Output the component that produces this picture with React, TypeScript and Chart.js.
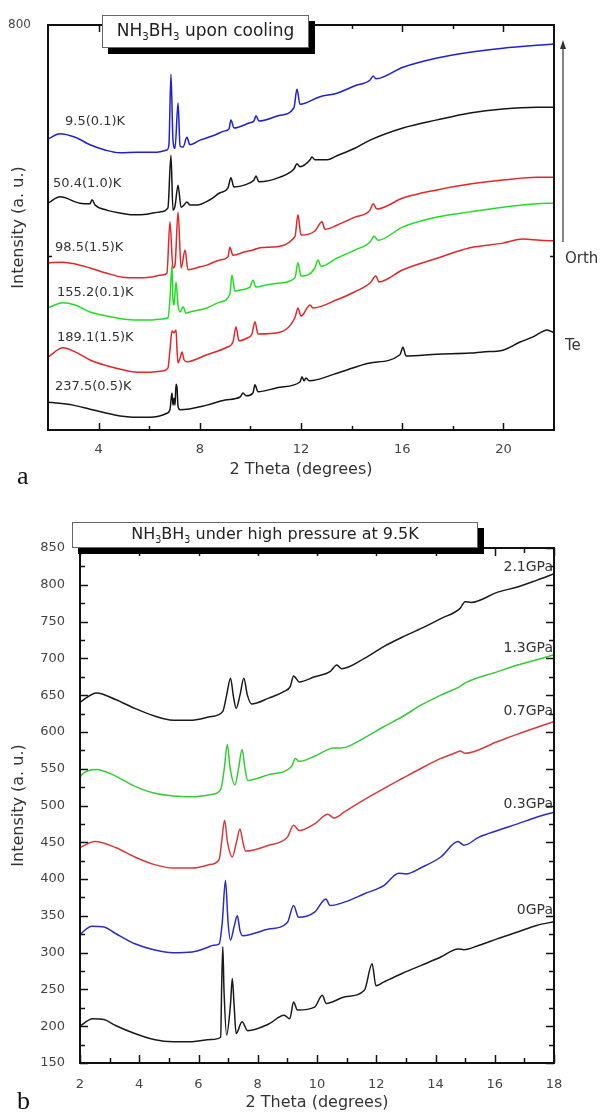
import React, { useEffect, useRef } from 'react';
import { Chart, registerables } from 'chart.js';
Chart.register(...registerables);
Chart.defaults.font.family = 'DejaVu Sans';

// ---------- Panel a: NH3BH3 upon cooling ----------
const aXTickLabels = [4, 8, 12, 16, 20];
const aXMinorTicks = [6, 10, 14, 18];
const aYTickLabels = [800];
const aYSideTicks = [400];
const aCurveLabels = ['9.5(0.1)K', '50.4(1.0)K', '98.5(1.5)K', '155.2(0.1)K', '189.1(1.5)K', '237.5(0.5)K'];
const aColors = ['#1f1fd6', '#151515', '#e32626', '#22dd22', '#e32626', '#151515'];

const a9p5K: [number, number][] = [
  [2.0, 603], [2.47, 612], [3.07, 606], [3.66, 593], [4.25, 584], [4.85, 579], [5.52, 580], [6.23, 580], [6.7, 584],
  [6.78, 593], [6.86, 715], [6.94, 601], [7.02, 587], [7.14, 665], [7.22, 591], [7.34, 589], [7.49, 606], [7.61, 593],
  [8.01, 601], [8.6, 610], [9.0, 617], [9.15, 620], [9.23, 636], [9.35, 622], [9.98, 631], [10.14, 634], [10.22, 643],
  [10.34, 634], [11.17, 644], [11.72, 657], [11.84, 689], [11.96, 663], [12.75, 676], [13.42, 682], [14.13, 695],
  [14.73, 705], [14.85, 712], [14.96, 707], [16.03, 727], [17.38, 743], [18.68, 753], [19.98, 760], [21.33, 765], [22.0, 767],
];
const a50p4K: [number, number][] = [
  [2.0, 492], [2.47, 503], [3.26, 492], [3.66, 491], [3.74, 498], [3.86, 489], [4.33, 480], [4.85, 475], [5.36, 472],
  [5.91, 473], [6.43, 477], [6.74, 484], [6.86, 575], [6.94, 480], [7.02, 487], [7.14, 523], [7.26, 485], [7.38, 489],
  [7.49, 494], [7.61, 489], [7.89, 489], [8.4, 498], [8.8, 510], [9.11, 518], [9.23, 536], [9.35, 520], [9.98, 527],
  [10.14, 532], [10.22, 539], [10.34, 529], [11.17, 537], [11.72, 551], [11.84, 560], [11.96, 555], [12.36, 567],
  [12.43, 572], [12.55, 567], [13.03, 567], [13.42, 574], [14.13, 587], [14.73, 601], [16.03, 622], [17.38, 636],
  [18.68, 648], [19.98, 655], [21.33, 658], [22.0, 658],
];
const a98p5K: [number, number][] = [
  [2.0, 389], [2.59, 390], [3.07, 387], [3.66, 380], [4.33, 371], [4.96, 364], [5.52, 363], [6.03, 364], [6.51, 368],
  [6.7, 371], [6.82, 460], [6.94, 380], [7.02, 385], [7.14, 477], [7.26, 380], [7.42, 411], [7.53, 377], [8.01, 382],
  [8.28, 385], [8.8, 394], [9.11, 399], [9.19, 416], [9.31, 402], [9.79, 408], [10.1, 411], [10.38, 415], [10.77, 416],
  [11.76, 434], [11.88, 472], [12.0, 437], [12.55, 444], [12.83, 460], [12.95, 447], [13.42, 454], [14.13, 468],
  [14.73, 480], [14.85, 491], [15.0, 482], [16.03, 501], [17.38, 515], [18.68, 525], [19.98, 532], [21.33, 537], [22.0, 537],
];
const a155p2K: [number, number][] = [
  [2.0, 311], [2.59, 320], [3.07, 316], [3.66, 304], [4.33, 297], [4.96, 292], [5.52, 290], [6.03, 290], [6.51, 292],
  [6.74, 294], [6.82, 325], [6.9, 385], [6.94, 325], [6.98, 316], [7.06, 356], [7.14, 316], [7.22, 304], [7.34, 313],
  [7.45, 302], [7.61, 304], [8.28, 311], [8.8, 321], [9.19, 335], [9.27, 368], [9.39, 340], [9.59, 342], [9.98, 347],
  [10.1, 359], [10.22, 347], [10.66, 351], [11.17, 354], [11.76, 363], [11.88, 389], [12.0, 366], [12.55, 380],
  [12.67, 394], [12.79, 383], [13.42, 397], [14.13, 411], [14.73, 425], [14.89, 435], [15.04, 428], [16.03, 451],
  [17.38, 468], [18.68, 477], [19.98, 485], [21.33, 491], [22.0, 492],
];
const a189p1K: [number, number][] = [
  [2.0, 226], [2.59, 242], [3.07, 235], [3.66, 221], [4.33, 211], [4.96, 204], [5.52, 200], [6.03, 200], [6.51, 202],
  [6.74, 207], [6.82, 238], [6.9, 271], [6.98, 268], [7.06, 273], [7.1, 238], [7.14, 216], [7.22, 224], [7.3, 235],
  [7.38, 221], [7.49, 218], [8.28, 230], [9.07, 243], [9.31, 252], [9.43, 278], [9.55, 254], [9.87, 259], [10.06, 266],
  [10.18, 287], [10.3, 266], [11.17, 269], [11.76, 294], [11.88, 311], [12.0, 297], [12.36, 316], [12.47, 311],
  [13.42, 325], [14.13, 339], [14.73, 354], [14.96, 366], [15.08, 356], [16.03, 377], [17.38, 397], [18.68, 415],
  [19.98, 423], [20.77, 430], [21.45, 428], [22.0, 427],
];
const a237p5K: [number, number][] = [
  [2.0, 148], [2.99, 143], [3.66, 136], [4.33, 129], [4.85, 124], [5.36, 122], [6.03, 122], [6.7, 129], [6.82, 135],
  [6.9, 164], [6.94, 143], [6.98, 155], [7.02, 143], [7.06, 179], [7.1, 173], [7.14, 141], [7.22, 135], [8.28, 143],
  [9.0, 152], [9.59, 157], [9.71, 164], [9.83, 159], [10.1, 164], [10.18, 178], [10.3, 166], [11.17, 174], [11.96, 183],
  [12.04, 192], [12.12, 185], [12.2, 190], [12.32, 185], [13.42, 198], [14.73, 216], [15.91, 230], [16.03, 243],
  [16.15, 228], [17.38, 231], [18.68, 233], [19.19, 235], [19.98, 238], [20.66, 252], [21.17, 261], [21.45, 268],
  [21.72, 273], [22.0, 268],
];
const aSeriesData = [a9p5K, a50p4K, a98p5K, a155p2K, a189p1K, a237p5K];

// ---------- Panel b: NH3BH3 under high pressure at 9.5K ----------
const bXTickLabels = [2, 4, 6, 8, 10, 12, 14, 16, 18];
const bXMinorTicks = [3, 5, 7, 9, 11, 13, 15, 17];
const bYTickLabels = [150, 200, 250, 300, 350, 400, 450, 500, 550, 600, 650, 700, 750, 800, 850];
const bYMinorTicks = [175, 225, 275, 325, 375, 425, 475, 525, 575, 625, 675, 725, 775, 825];
const bCurveLabels = ['2.1GPa', '1.3GPa', '0.7GPa', '0.3GPa', '0GPa'];
const bColors = ['#1a1a1a', '#33cc33', '#d83a3a', '#2a2ac8', '#1a1a1a'];

const b2p1GPa: [number, number][] = [
  [2.0, 640], [2.06, 642], [2.56, 653], [3.2, 644], [3.85, 632], [4.49, 622], [5.14, 616], [5.79, 616], [6.43, 621],
  [6.82, 628], [6.95, 650], [7.08, 673], [7.18, 648], [7.27, 632], [7.4, 650], [7.53, 673], [7.65, 650], [7.79, 638],
  [8.37, 646], [8.89, 655], [9.1, 662], [9.21, 676], [9.4, 668], [9.92, 675], [10.44, 682], [10.67, 691], [10.82, 686],
  [11.6, 700], [12.25, 716], [12.89, 729], [13.54, 741], [14.18, 754], [14.83, 768], [15.0, 777], [15.2, 776],
  [16.1, 790], [16.77, 797], [17.41, 806], [18.0, 815],
];
const b1p3GPa: [number, number][] = [
  [2.0, 538], [2.06, 542], [2.56, 549], [3.2, 540], [3.85, 526], [4.49, 517], [5.14, 513], [5.79, 512], [6.43, 515],
  [6.75, 522], [6.87, 550], [6.97, 583], [7.07, 550], [7.23, 528], [7.35, 550], [7.47, 576], [7.57, 550], [7.66, 534],
  [8.37, 542], [9.14, 553], [9.27, 564], [9.4, 560], [9.92, 567], [10.57, 578], [10.82, 578], [11.6, 592], [12.25, 607],
  [12.89, 621], [13.54, 637], [14.18, 650], [14.83, 662], [15.02, 667], [16.1, 682], [16.77, 691], [17.41, 698], [18.0, 705],
];
const b0p7GPa: [number, number][] = [
  [2.0, 443], [2.5, 451], [3.2, 443], [3.85, 430], [4.49, 420], [5.14, 415], [5.79, 415], [6.43, 420], [6.7, 427],
  [6.78, 450], [6.88, 480], [6.98, 450], [7.14, 430], [7.28, 450], [7.4, 468], [7.5, 450], [7.59, 438], [8.37, 446],
  [9.0, 457], [9.21, 473], [9.4, 466], [9.92, 475], [10.37, 488], [10.57, 483], [10.95, 492], [11.6, 508], [12.25, 523],
  [12.89, 537], [13.54, 551], [14.18, 564], [14.7, 572], [14.83, 574], [15.0, 571], [16.1, 587], [16.77, 597], [17.41, 606], [18.0, 614],
];
const b0p3GPa: [number, number][] = [
  [2.0, 325], [2.4, 336], [2.81, 335], [3.2, 326], [3.85, 312], [4.49, 304], [5.14, 300], [5.79, 301], [6.3, 307],
  [6.5, 310], [6.7, 312], [6.8, 340], [6.91, 398], [7.0, 340], [7.08, 317], [7.2, 335], [7.31, 350], [7.4, 330],
  [7.49, 323], [8.37, 332], [9.0, 341], [9.21, 364], [9.38, 348], [9.92, 355], [10.3, 373], [10.44, 364], [10.95, 369],
  [11.6, 380], [12.25, 391], [12.76, 408], [13.0, 407], [13.54, 416], [14.18, 430], [14.76, 451], [14.96, 446],
  [15.47, 457], [16.1, 466], [16.77, 475], [17.41, 484], [18.0, 491],
];
const b0GPa: [number, number][] = [
  [2.0, 200], [2.43, 210], [2.81, 209], [3.2, 201], [3.85, 190], [4.49, 182], [5.14, 179], [5.79, 179], [6.43, 182],
  [6.75, 185], [6.78, 250], [6.82, 308], [6.86, 250], [6.95, 188], [7.08, 230], [7.14, 265], [7.2, 230], [7.27, 190],
  [7.47, 206], [7.66, 194], [8.37, 203], [8.89, 215], [9.08, 210], [9.21, 233], [9.34, 222], [9.92, 226], [10.18, 242],
  [10.31, 231], [10.95, 240], [11.6, 249], [11.86, 285], [11.99, 255], [12.25, 260], [12.89, 272], [13.54, 283],
  [14.18, 294], [14.76, 305], [14.96, 304], [15.47, 310], [16.1, 319], [16.77, 328], [17.41, 337], [18.0, 342],
];
const bSeriesData = [b2p1GPa, b1p3GPa, b0p7GPa, b0p3GPa, b0GPa];

// ---------- frame + inward ticks plugin ----------
const frameTicks = {
  id: 'frameTicks',
  afterDatasetsDraw(chart: any, _args: any, opts: any) {
    const { ctx, chartArea } = chart;
    const { left, right, top, bottom } = chartArea;
    const xs = chart.scales.x;
    const ys = chart.scales.y;
    ctx.save();
    ctx.strokeStyle = '#111';
    ctx.lineWidth = 1.5;
    const seg = (x1: number, y1: number, x2: number, y2: number) => {
      ctx.beginPath(); ctx.moveTo(x1, y1); ctx.lineTo(x2, y2); ctx.stroke();
    };
    const xt = (vals: number[], len: number) => vals.forEach((v) => {
      const p = Math.round(xs.getPixelForValue(v)) + 0.5;
      seg(p, bottom, p, bottom - len);
      seg(p, top, p, top + len);
    });
    const yt = (vals: number[], len: number) => vals.forEach((v) => {
      const p = Math.round(ys.getPixelForValue(v)) + 0.5;
      seg(left, p, left + len, p);
      seg(right, p, right - len, p);
    });
    xt(opts.xMajor || [], opts.majorLen);
    xt(opts.xMinor || [], opts.minorLen);
    yt(opts.yMajor || [], opts.majorLen);
    yt(opts.yMinor || [], opts.minorLen);
    ctx.lineWidth = 2;
    ctx.strokeRect(left, top, right - left, bottom - top);
    ctx.restore();
  },
};

function makeDatasets(series: [number, number][][], colors: string[], labels: string[]) {
  return series.map((d, i) => ({
    label: labels[i],
    data: d.map(([x, y]) => ({ x, y })),
    borderColor: colors[i],
    borderWidth: 1.5,
    pointRadius: 0,
    fill: false,
    cubicInterpolationMode: 'monotone' as const,
  }));
}

const tickFont = { family: 'DejaVu Sans', size: 13 };
const titleFont = { family: 'DejaVu Sans', size: 16 };

function PanelA() {
  const ref = useRef<HTMLCanvasElement>(null);
  useEffect(() => {
    const chart = new Chart(ref.current!, {
      type: 'line',
      data: { datasets: makeDatasets(aSeriesData, aColors, aCurveLabels) as any },
      plugins: [frameTicks as any],
      options: {
        animation: false,
        responsive: false,
        layout: { padding: { top: 25, right: 46, left: 0, bottom: 0 } },
        plugins: {
          legend: { display: false },
          tooltip: { enabled: false },
          frameTicks: { xMajor: aXTickLabels, xMinor: aXMinorTicks, yMajor: [], yMinor: aYSideTicks, majorLen: 7, minorLen: 4 },
        } as any,
        scales: {
          x: {
            type: 'linear', min: 2, max: 22, position: 'bottom',
            grid: { display: false }, border: { display: false },
            afterBuildTicks: (s: any) => { s.ticks = aXTickLabels.map((v) => ({ value: v })); },
            afterFit: (s: any) => { s.height = 60; },
            ticks: { font: tickFont, color: '#444', padding: 4, autoSkip: false, maxRotation: 0 },
            title: { display: true, text: '2 Theta (degrees)', font: titleFont, color: '#333', padding: { top: 0, bottom: 11 } },
          },
          y: {
            type: 'linear', min: 100, max: 800,
            grid: { display: false }, border: { display: false },
            afterBuildTicks: (s: any) => { s.ticks = aYTickLabels.map((v) => ({ value: v })); },
            afterFit: (s: any) => { s.width = 48; },
            ticks: { font: { family: 'DejaVu Sans', size: 12 }, color: '#444', padding: 9 },
            title: { display: true, text: 'Intensity (a. u.)', font: titleFont, color: '#333', padding: { top: 9, bottom: 0 } },
          },
        },
      } as any,
    });
    return () => chart.destroy();
  }, []);
  return <canvas ref={ref} width={600} height={490} style={{ position: 'absolute', left: 0, top: 0 }} />;
}

function PanelB() {
  const ref = useRef<HTMLCanvasElement>(null);
  useEffect(() => {
    const chart = new Chart(ref.current!, {
      type: 'line',
      data: { datasets: makeDatasets(bSeriesData, bColors, bCurveLabels) as any },
      plugins: [frameTicks as any],
      options: {
        animation: false,
        responsive: false,
        layout: { padding: { top: 48, right: 46, left: 0, bottom: 0 } },
        plugins: {
          legend: { display: false },
          tooltip: { enabled: false },
          frameTicks: { xMajor: bXTickLabels, xMinor: bXMinorTicks, yMajor: bYTickLabels, yMinor: bYMinorTicks, majorLen: 8, minorLen: 5 },
        } as any,
        scales: {
          x: {
            type: 'linear', min: 2, max: 18, position: 'bottom',
            grid: { display: false }, border: { display: false },
            afterBuildTicks: (s: any) => { s.ticks = bXTickLabels.map((v) => ({ value: v })); },
            afterFit: (s: any) => { s.height = 50; },
            ticks: { font: tickFont, color: '#444', padding: 6, autoSkip: false, maxRotation: 0 },
            title: { display: true, text: '2 Theta (degrees)', font: titleFont, color: '#333', padding: { top: 0, bottom: 1 } },
          },
          y: {
            type: 'linear', min: 150, max: 850,
            grid: { display: false }, border: { display: false },
            afterBuildTicks: (s: any) => { s.ticks = bYTickLabels.map((v) => ({ value: v })); },
            afterFit: (s: any) => { s.width = 80; },
            ticks: { font: tickFont, color: '#444', padding: 7, autoSkip: false },
            title: { display: true, text: 'Intensity (a. u.)', font: titleFont, color: '#333', padding: { top: 9, bottom: 0 } },
          },
        },
      } as any,
    });
    return () => chart.destroy();
  }, []);
  return <canvas ref={ref} width={600} height={613} style={{ position: 'absolute', left: 0, top: 500 }} />;
}

const txt: React.CSSProperties = { position: 'absolute', fontFamily: 'DejaVu Sans', color: '#333', lineHeight: '1', whiteSpace: 'nowrap' };
const aLabelPos = [[65, 121], [53, 183], [55, 247], [57, 292], [57, 337], [55, 386]];
const bLabelPos = [566, 647, 710, 803, 909];

function TitleBox({ left, top, width, height, size, rest }: { left: number; top: number; width: number; height: number; size: number; rest: string }) {
  return (
    <div style={{
      position: 'absolute', left, top, width, height, boxSizing: 'border-box', background: '#fff',
      border: '1px solid #666', boxShadow: '6px 6px 0 #000', display: 'flex', alignItems: 'center', justifyContent: 'center',
      fontFamily: 'DejaVu Sans', fontSize: size, color: '#222', whiteSpace: 'nowrap',
    }}>
      <span>NH<sub style={{ fontSize: size * 0.6 }}>3</sub>BH<sub style={{ fontSize: size * 0.6 }}>3</sub>{rest}</span>
    </div>
  );
}

export default function App() {
  return (
    <div style={{ position: 'absolute', left: 0, top: 0, width: 600, height: 1113, background: '#fff', overflow: 'hidden' }}>
      <PanelA />
      <PanelB />
      <TitleBox left={102} top={15} width={207} height={33} size={17} rest=" upon cooling" />
      <TitleBox left={72} top={522} width={406} height={26} size={16} rest=" under high pressure at 9.5K" />
      {aCurveLabels.map((t, i) => (
        <div key={t} style={{ ...txt, left: aLabelPos[i][0], top: aLabelPos[i][1] - 7, fontSize: 13 }}>{t}</div>
      ))}
      {bCurveLabels.map((t, i) => (
        <div key={t} style={{ ...txt, right: 47, top: bLabelPos[i] - 7, fontSize: 14 }}>{t}</div>
      ))}
      <div style={{ ...txt, left: 565, top: 251, fontSize: 15 }}>Orth</div>
      <div style={{ ...txt, left: 565, top: 338, fontSize: 15 }}>Te</div>
      <svg width={20} height={220} style={{ position: 'absolute', left: 553, top: 36 }}>
        <line x1={10} y1={8} x2={10} y2={206} stroke="#333" strokeWidth={1.2} />
        <polygon points="10,4 7,13 13,13" fill="#333" />
      </svg>
      <div style={{ position: 'absolute', left: 17, top: 463, fontFamily: 'Liberation Serif', fontSize: 26, color: '#111', lineHeight: '1' }}>a</div>
      <div style={{ position: 'absolute', left: 17, top: 1088, fontFamily: 'Liberation Serif', fontSize: 26, color: '#111', lineHeight: '1' }}>b</div>
    </div>
  );
}
